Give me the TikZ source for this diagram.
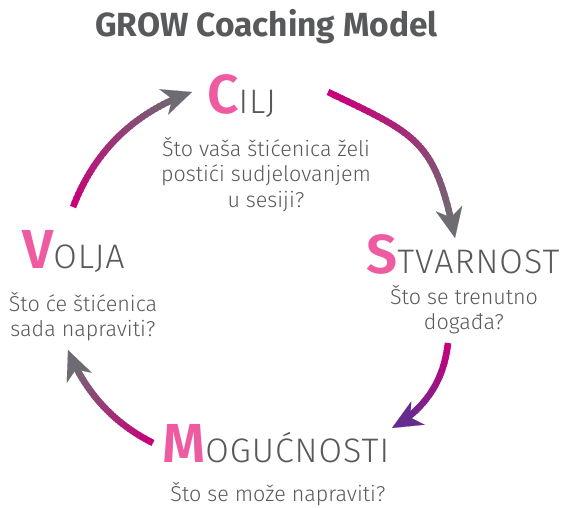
\documentclass[tikz,border=0pt]{standalone}
\usepackage{fontspec}
\setmainfont{Fira Sans Light}[BoldFont=Fira Sans Bold]
\newfontfamily\initialfont{Fira Sans SemiBold}
\usetikzlibrary{calc, arrows.meta}

\definecolor{growpink}{HTML}{EE5BA0}
\definecolor{growmagenta}{HTML}{C8007B}
\definecolor{growgrey}{HTML}{6F6B72}
\definecolor{growpurple}{HTML}{652C90}
\definecolor{growtext}{HTML}{58595B}

% first letter of each stage
\newcommand{\initial}[1]{{\initialfont\color{growpink}\fontsize{55}{55}\selectfont #1}}

% shaded arrow along a cubic curve:
% start, control 1, control 2, end, colour at start, colour at end, where the shaft stops
\newcommand{\growarrow}[7]{%
  \foreach \i in {0,...,39}{
    \pgfmathsetmacro{\ta}{#7*\i/40}
    \pgfmathsetmacro{\tb}{#7*(\i+1.5)/40}
    \pgfmathsetmacro{\mixval}{100-100*\i/39}
    \draw[arrowshaft, color={#5!\mixval!#6}]
      ($ {(1-\ta)^3}*(#1) + {3*(1-\ta)^2*\ta}*(#2) + {3*(1-\ta)*\ta^2}*(#3) + {\ta^3}*(#4) $) --
      ($ {(1-\tb)^3}*(#1) + {3*(1-\tb)^2*\tb}*(#2) + {3*(1-\tb)*\tb^2}*(#3) + {\tb^3}*(#4) $);
  }
  \draw[arrowhead, #6] ($(#4)!32pt!(#3)$) -- (#4);
}

\begin{document}
\begin{tikzpicture}[x=1pt, y=-1pt,
    titletext/.style = {font=\bfseries\fontsize{33.5}{33.5}\selectfont, text=growtext, inner sep=0pt},
    heading/.style = {font=\fontsize{34}{34}\selectfont\addfontfeature{LetterSpace=3}, text=growtext, inner sep=0pt, anchor=base west},
    question/.style = {font=\fontsize{21.5}{25.5}\selectfont, text=growtext, inner sep=0pt, align=center, anchor=north},
    arrowshaft/.style = {line width=6.5pt},
    arrowhead/.style = {line width=0.1pt, -{Stealth[length=30pt, width=27pt, inset=9pt]}}]

    \useasboundingbox (0,0) rectangle (564,507);

    \node[titletext, anchor=base] (title) at (266.5,36) {GROW Coaching Model};

    % the four stages
    \node[heading] (cilj) at (207,113) {\initial{C}ILJ};
    \node[heading] (stvarnost) at (366,273) {\initial{S}TVARNOST};
    \node[heading] (moguc) at (162,462) {\initial{M}OGUĆNOSTI};
    \node[heading] (volja) at (22,268) {\initial{V}OLJA};

    \node[question] (cilj-q) at (266,137) {Što vaša štićenica želi\\postići sudjelovanjem\\u sesiji?};
    \node[question] (stvarnost-q) at (464,285) {Što se trenutno\\događa?};
    \node[question] (moguc-q) at (278,482) {Što se može napraviti?};
    \node[question] (volja-q) at (83,292) {Što će štićenica\\sada napraviti?};

    % arrow ends and bends
    \coordinate (cilj-out) at (328,92);
    \coordinate (stv-in) at (455,238);
    \coordinate (stv-out) at (448,343);
    \coordinate (moguc-in) at (392,428);
    \coordinate (moguc-out) at (153,443);
    \coordinate (volja-in) at (68,350);
    \coordinate (volja-out) at (73,207);
    \coordinate (cilj-in) at (192,92);

    \coordinate (b1) at (418,135); \coordinate (b2) at (435,140);
    \coordinate (b3) at (444,381); \coordinate (b4) at (425,409);
    \coordinate (b5) at (113,423); \coordinate (b6) at (85,392);
    \coordinate (b7) at (95,150);  \coordinate (b8) at (135,112);

    \growarrow{cilj-out}{b1}{b2}{stv-in}{growmagenta}{growgrey}{0.96}
    \growarrow{stv-out}{b3}{b4}{moguc-in}{growmagenta}{growpurple}{0.89}
    \growarrow{moguc-out}{b5}{b6}{volja-in}{growmagenta}{growgrey}{0.91}
    \growarrow{volja-out}{b7}{b8}{cilj-in}{growmagenta}{growgrey}{0.93}

\end{tikzpicture}
\end{document}
